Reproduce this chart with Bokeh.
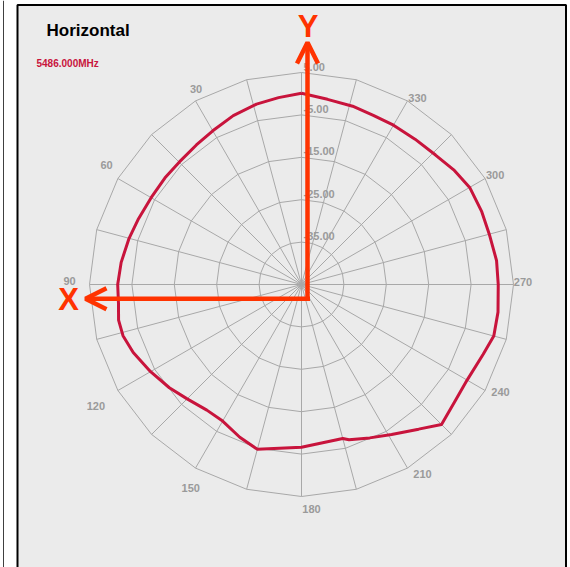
import numpy as np
from bokeh.plotting import figure
from bokeh.models import Range1d, Arrow, OpenHead
from bokeh.embed import file_html
from bokeh.resources import INLINE
from bokeh.core.properties import value

# ---------------- data ----------------
title_text = "Horizontal"
freq_text = "5486.000MHz"

angles_deg = [0, 7, 14, 22, 30, 37, 45, 52, 60, 68, 75, 83, 90, 96, 101, 106,
              112, 120, 128, 135, 143, 150, 158, 165, 180, 195, 197, 204, 211,
              219, 225, 233, 240, 249, 255, 262, 270, 277, 285, 292, 300, 307,
              314, 322, 330, 337, 344, 352]
gain_db = [0.1, -0.6, -1.15, -2.05, -3.15, -3.8, -4.2, -4.15, -4.05, -3.55,
           -2.9, -2.15, -1.65, -1.6, -1.05, -1.2, -2.2, -3.9, -5.45, -6.85,
           -7.9, -7.8, -6.15, -4.75, -6.6, -7.4, -6.7, -5.4, -3.75, -1.1, 1.7,
           0.45, 0.1, 0.9, 1.95, 1.8, 1.4, 1.35, 0.85, 0.85, 0.8, -0.05, -1.05,
           -1.5, -1.6, -1.65, -1.25, -0.9]

ring_values = [5, -5, -15, -25, -35]
r_min = -45.0
r_max = 5.0
angle_ticks = [30, 60, 90, 120, 150, 180, 210, 240, 270, 300, 330]
spoke_step = 15

# ---------------- layout ----------------
OUTER_PX = 212.0
PX = OUTER_PX / (r_max - r_min)      # pixels per dB
CX, CY = 301.0, 284.0                # pole in page pixels
W, H = 570, 567
ORIGIN = 0.0


def X(xr):
    return (xr - CX) / PX


def Y(yr):
    return (CY - yr) / PX


def polar(theta_deg, r):
    t = np.radians(np.asarray(theta_deg, dtype=float))
    r = np.asarray(r, dtype=float)
    return -r * np.sin(t), r * np.cos(t)


p = figure(width=W, height=H,
           x_range=Range1d(X(ORIGIN), X(ORIGIN + W)),
           y_range=Range1d(Y(ORIGIN + H), Y(ORIGIN)),
           output_backend="svg", toolbar_location=None, min_border=0)
p.axis.visible = False
p.grid.visible = False
p.outline_line_color = None
p.background_fill_color = "white"
p.border_fill_color = "white"

FONT = value("Liberation Sans")

# neighbouring panel edge and panel
p.segment(x0=[X(3)], y0=[Y(0)], x1=[X(3)], y1=[Y(600)], line_color="#404040", line_width=1)
p.quad(left=[X(17)], right=[X(565.5)], top=[Y(4.5)], bottom=[Y(620)],
       fill_color="#ebebeb", line_color="black", line_width=2)

# polygon rings
vert_angles = np.arange(0, 361, spoke_step)
ring_xs, ring_ys = [], []
for v in ring_values:
    xs, ys = polar(vert_angles, np.full(len(vert_angles), v - r_min))
    ring_xs.append(list(xs))
    ring_ys.append(list(ys))
p.multi_line(ring_xs, ring_ys, line_color="#a8a8a8", line_width=1)

# spokes
spoke_angles = np.arange(0, 360, spoke_step)
ox, oy = polar(spoke_angles, np.full(len(spoke_angles), r_max - r_min))
p.multi_line([[0, a] for a in ox], [[0, b] for b in oy],
             line_color="#a8a8a8", line_width=1)

# data curve
cx, cy = polar(angles_deg + [angles_deg[0]],
               [g - r_min for g in gain_db + [gain_db[0]]])
p.line(cx, cy, line_color="#c8143c", line_width=3)

# ring labels
ring_r = np.array(ring_values) - r_min
p.text(x=[X(CX + 2)] * len(ring_values), y=list(ring_r + 2 / PX),
       text=["%.2f" % v for v in ring_values],
       text_font=FONT, text_font_style="bold", text_font_size="11px",
       text_color="#9a9a9a", text_align="left", text_baseline="bottom")

# angle labels (offsets from outer vertex, in pixels: right, down)
label_offsets = {30: (0.5, -12.4), 60: (-11.4, -13.5), 90: (-20, -3.5),
                 120: (-22, 15), 150: (-4.7, 20.4), 180: (10, 12),
                 210: (15, 6.4), 240: (15.4, 1), 270: (9.5, -3),
                 300: (10, -3.5), 330: (10, -3.4)}
vx, vy = polar(angle_ticks, np.full(len(angle_ticks), r_max - r_min))
lx = [vx[i] + label_offsets[a][0] / PX for i, a in enumerate(angle_ticks)]
ly = [vy[i] - label_offsets[a][1] / PX for i, a in enumerate(angle_ticks)]
p.text(x=lx, y=ly, text=[str(a) for a in angle_ticks],
       text_font=FONT, text_font_style="bold", text_font_size="11px",
       text_color="#9a9a9a", text_align="center", text_baseline="middle")

# title and frequency
p.text(x=[X(46)], y=[Y(29.5)], text=[title_text], text_font=FONT,
       text_font_style="bold", text_font_size="17px", text_color="black",
       text_align="left", text_baseline="alphabetic")
p.text(x=[X(36)], y=[Y(62.5)], text=[freq_text], text_font=FONT,
       text_font_style="bold", text_font_size="10px", text_color="#c8143c",
       text_align="left", text_baseline="alphabetic")

# axes arrows
AR = "#ff3300"
p.add_layout(Arrow(x_start=X(309.5), y_start=Y(298.3), x_end=X(85), y_end=Y(298.3),
                   line_color=AR, line_width=4.5,
                   end=OpenHead(size=21, line_color=AR, line_width=4.5)))
p.add_layout(Arrow(x_start=X(307), y_start=Y(300.5), x_end=X(307), y_end=Y(42),
                   line_color=AR, line_width=4.5,
                   end=OpenHead(size=21, line_color=AR, line_width=4.5)))
p.text(x=[X(307.5), X(68)], y=[Y(26), Y(298.5)], text=["Y", "X"],
       text_font=FONT, text_font_style="bold", text_font_size="31px",
       text_color=AR, text_align="center", text_baseline="middle")

open("out.html", "w").write(file_html(p, INLINE))
